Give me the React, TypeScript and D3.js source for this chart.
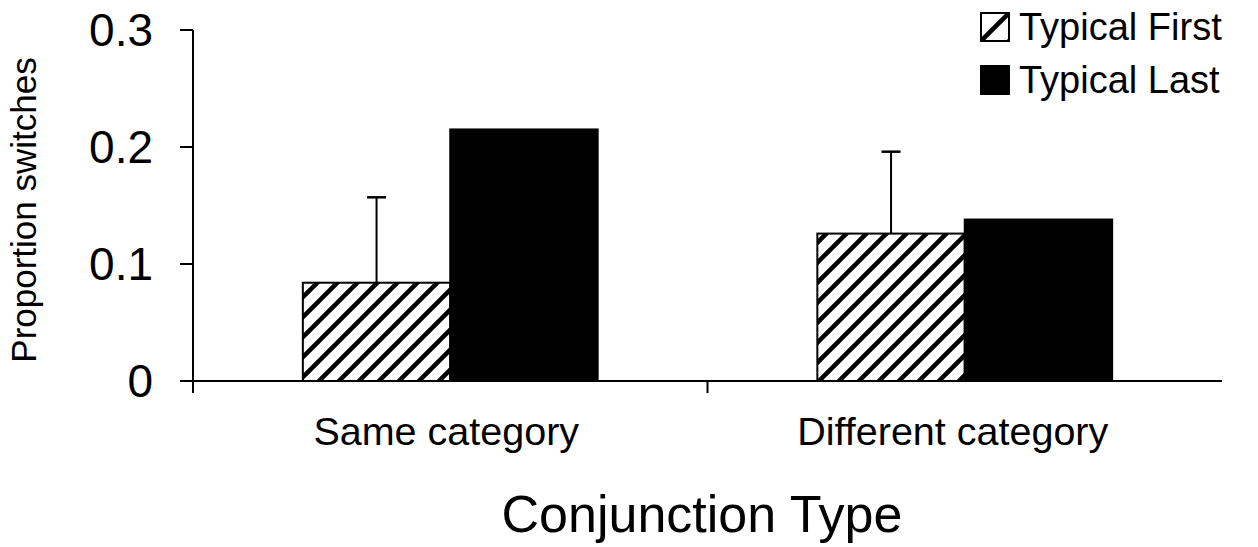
import React, { useRef, useEffect } from 'react';
import * as d3 from 'd3';

const categories = ['Same category', 'Different category'];
const seriesNames = ['Typical First', 'Typical Last'];
const typicalFirst = [0.084, 0.126];
const typicalLast = [0.215, 0.138];
const firstErrors = [0.073, 0.07];
const yTicks = [0, 0.1, 0.2, 0.3];

const W = 1258;
const H = 547;
const FONT = '"Liberation Sans", Arial, sans-serif';

const App: React.FC = () => {
  const svgRef = useRef<SVGSVGElement | null>(null);

  useEffect(() => {
    if (!svgRef.current) return;
    const svg = d3.select(svgRef.current);
    svg.selectAll('*').remove();

    const left = 193;
    const right = 1222;
    const top = 30;
    const bottom = 381;

    const y = d3.scaleLinear().domain([0, 0.3]).range([bottom, top]);
    const x0 = d3.scaleBand<string>().domain(categories).range([left, right]).paddingInner(0).paddingOuter(0);
    const inner = 0.573;
    const x1 = d3
      .scaleBand<string>()
      .domain(seriesNames)
      .range([0, x0.bandwidth() * inner]);
    const offset = (x0.bandwidth() * (1 - inner)) / 2;

    // hatch pattern
    const defs = svg.append('defs');
    const pat = defs
      .append('pattern')
      .attr('id', 'hatch')
      .attr('patternUnits', 'userSpaceOnUse')
      .attr('width', 20)
      .attr('height', 20);
    pat.append('rect').attr('width', 20).attr('height', 20).attr('fill', '#fff');
    pat
      .append('path')
      .attr('d', 'M-5,5 L5,-5 M0,20 L20,0 M15,25 L25,15')
      .attr('stroke', '#000')
      .attr('stroke-width', 4.5);

    const lpat = defs
      .append('pattern')
      .attr('id', 'hatchLegend')
      .attr('patternUnits', 'userSpaceOnUse')
      .attr('width', 28)
      .attr('height', 28)
      .attr('x', 981)
      .attr('y', 13);
    lpat.append('rect').attr('width', 28).attr('height', 28).attr('fill', '#fff');
    lpat
      .append('path')
      .attr('d', 'M0,28 L28,0 M14,42 L42,14')
      .attr('stroke', '#000')
      .attr('stroke-width', 4.5);

    const g = svg.append('g');

    // bars
    categories.forEach((cat, i) => {
      const bx = (x0(cat) ?? 0) + offset;
      const vals = [typicalFirst[i], typicalLast[i]];
      seriesNames.forEach((s, j) => {
        const xx = bx + (x1(s) ?? 0);
        const v = vals[j];
        g.append('rect')
          .attr('x', xx)
          .attr('y', y(v))
          .attr('width', x1.bandwidth())
          .attr('height', y(0) - y(v))
          .attr('fill', j === 0 ? 'url(#hatch)' : '#000')
          .attr('stroke', '#000')
          .attr('stroke-width', 2);
      });
      // error bar
      const cx = bx + (x1(seriesNames[0]) ?? 0) + x1.bandwidth() / 2;
      const topE = typicalFirst[i] + firstErrors[i];
      g.append('line')
        .attr('x1', cx)
        .attr('x2', cx)
        .attr('y1', y(typicalFirst[i]))
        .attr('y2', y(topE))
        .attr('stroke', '#000')
        .attr('stroke-width', 2);
      g.append('line')
        .attr('x1', cx - 9.5)
        .attr('x2', cx + 9.5)
        .attr('y1', y(topE))
        .attr('y2', y(topE))
        .attr('stroke', '#000')
        .attr('stroke-width', 2.5);
    });

    // y axis
    g.append('line')
      .attr('x1', left)
      .attr('x2', left)
      .attr('y1', y(0.3))
      .attr('y2', bottom + 12)
      .attr('stroke', '#000')
      .attr('stroke-width', 2);
    yTicks.forEach((t) => {
      g.append('line')
        .attr('x1', left - 13)
        .attr('x2', left)
        .attr('y1', y(t))
        .attr('y2', y(t))
        .attr('stroke', '#000')
        .attr('stroke-width', 2);
      g.append('text')
        .attr('x', 153)
        .attr('y', y(t) - 1)
        .attr('dy', '0.36em')
        .attr('text-anchor', 'end')
        .attr('font-family', FONT)
        .attr('font-size', 46)
        .text(t === 0 ? '0' : d3.format('.1f')(t));
    });

    // x axis
    g.append('line')
      .attr('x1', left)
      .attr('x2', right)
      .attr('y1', bottom)
      .attr('y2', bottom)
      .attr('stroke', '#000')
      .attr('stroke-width', 2);
    categories.forEach((cat, i) => {
      if (i > 0) {
        const tx = x0(cat) ?? 0;
        g.append('line')
          .attr('x1', tx)
          .attr('x2', tx)
          .attr('y1', bottom)
          .attr('y2', bottom + 12)
          .attr('stroke', '#000')
          .attr('stroke-width', 2);
      }
      g.append('text')
        .attr('x', (x0(cat) ?? 0) + x0.bandwidth() / 2 - 4 - 8 * i)
        .attr('y', 445)
        .attr('text-anchor', 'middle')
        .attr('font-family', FONT)
        .attr('font-size', 39.5)
        .text(cat);
    });

    g.append('text')
      .attr('x', 702)
      .attr('y', 532)
      .attr('text-anchor', 'middle')
      .attr('font-family', FONT)
      .attr('font-size', 52)
      .text('Conjunction Type');

    g.append('text')
      .attr('transform', `translate(36,${210}) rotate(-90)`)
      .attr('text-anchor', 'middle')
      .attr('font-family', FONT)
      .attr('font-size', 35)
      .text('Proportion switches');

    // legend
    seriesNames.forEach((s, j) => {
      const ly = 13 + j * 53;
      g.append('rect')
        .attr('x', 981)
        .attr('y', ly)
        .attr('width', 28)
        .attr('height', 28)
        .attr('fill', j === 0 ? 'url(#hatchLegend)' : '#000')
        .attr('stroke', '#000')
        .attr('stroke-width', 2);
      g.append('text')
        .attr('x', 1019)
        .attr('y', ly + 27)
        .attr('font-family', FONT)
        .attr('font-size', 38)
        .text(s);
    });
  }, []);

  return (
    <svg
      ref={svgRef}
      width={W}
      height={H}
      style={{ position: 'absolute', left: 0, top: 0, background: '#fff' }}
    />
  );
};

export default App;
